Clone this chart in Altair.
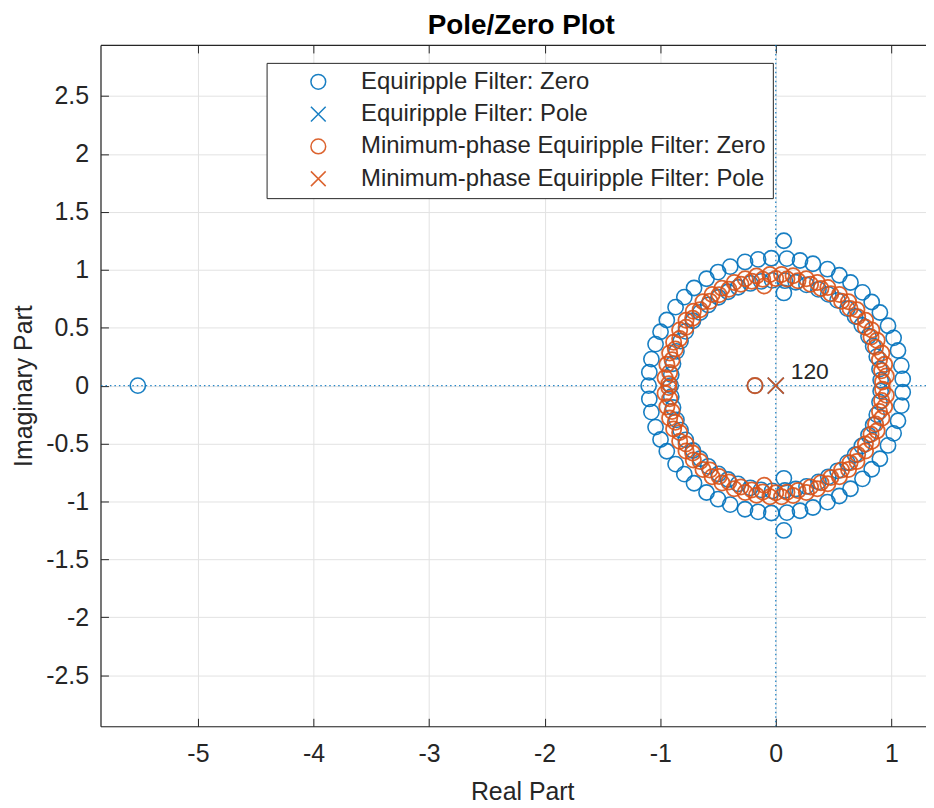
import altair as alt
import pandas as pd
import math

BLUE = "#0072BD"
ORANGE = "#D95319"
SERIES = [
    "Equiripple Filter: Zero",
    "Equiripple Filter: Pole",
    "Minimum-phase Equiripple Filter: Zero",
    "Minimum-phase Equiripple Filter: Pole",
]
COLORS = [BLUE, BLUE, ORANGE, ORANGE]
XSHAPE = "M-1,-1L1,1M-1,1L1,-1"
SHAPES = ["circle", XSHAPE, "circle", XSHAPE]

# Equiripple (linear-phase) filter zeros: reciprocal rings (upper-half angles, deg; mirrored by conjugate symmetry)
EQ_RING_OUTER_R = 1.10
EQ_RING_INNER_R = 0.909
EQ_RING_ANGLES = [3, 9, 16, 22, 28, 35, 41, 47, 54, 60, 66, 73, 79, 85, 92,
                  98, 104, 111, 117, 123, 130, 136, 142, 149, 155, 161, 168, 174, 180]
EQ_EXTRA_RE = [-5.52, -0.18, 0.07, 0.07, 0.07, 0.07]
EQ_EXTRA_IM = [0.0, 0.0, 1.25, -1.25, 0.80, -0.80]
EQ_POLES_RE = [0.0]
EQ_POLES_IM = [0.0]

# Minimum-phase equiripple filter zeros
MP_RING_A_R = 0.925
MP_RING_A_ANGLES = [2, 8, 14, 21, 27, 33, 40, 46, 52, 59, 65, 71, 78, 84, 90,
                    97, 103, 109, 116, 122, 128, 135, 141, 147, 154, 160, 166, 173, 179]
MP_RING_B_R = 0.96
MP_RING_B_ANGLES = [5, 11, 17, 24, 30, 36, 43, 49, 55, 62, 68, 74, 81, 87, 93,
                    100, 106, 112, 119, 125, 131, 138, 144, 150, 157, 163, 169, 176]
MP_EXTRA_RE = [-0.18, -0.10, -0.10]
MP_EXTRA_IM = [0.0, 0.86, -0.86]
MP_POLES_RE = [0.0]
MP_POLES_IM = [0.0]
POLE_MULTIPLICITY = "120"

X_TICKS = [-5, -4, -3, -2, -1, 0, 1]
Y_TICKS = [-2.5, -2, -1.5, -1, -0.5, 0, 0.5, 1, 1.5, 2, 2.5]
X_DOMAIN = [-5.843, 1.300]
Y_DOMAIN = [-2.94, 2.94]


def ring(r, angles):
    pts = []
    for a in angles:
        t = math.radians(a)
        pts.append((r * math.cos(t), r * math.sin(t)))
        if a not in (0, 180):
            pts.append((r * math.cos(t), -r * math.sin(t)))
    return pts


def frame(points, series):
    return pd.DataFrame({"re": [p[0] for p in points], "im": [p[1] for p in points], "series": series})


eq_zero_pts = ring(EQ_RING_OUTER_R, EQ_RING_ANGLES) + ring(EQ_RING_INNER_R, EQ_RING_ANGLES) + list(zip(EQ_EXTRA_RE, EQ_EXTRA_IM))
mp_zero_pts = ring(MP_RING_A_R, MP_RING_A_ANGLES) + ring(MP_RING_B_R, MP_RING_B_ANGLES) + list(zip(MP_EXTRA_RE, MP_EXTRA_IM))

df_eq_z = frame(eq_zero_pts, SERIES[0])
df_eq_p = frame(list(zip(EQ_POLES_RE, EQ_POLES_IM)), SERIES[1])
df_mp_z = frame(mp_zero_pts, SERIES[2])
df_mp_p = frame(list(zip(MP_POLES_RE, MP_POLES_IM)), SERIES[3])
df_txt = pd.DataFrame({"re": MP_POLES_RE, "im": MP_POLES_IM, "label": [POLE_MULTIPLICITY]})
df_axis0 = pd.DataFrame({"v": [0.0]})

FONT = "Liberation Sans"
DARK = "#262626"
xs = alt.Scale(domain=X_DOMAIN, nice=False, zero=False)
ys = alt.Scale(domain=Y_DOMAIN, nice=False, zero=False)

legend = alt.Legend(
    title=None, orient="none", legendX=167, legendY=18, direction="vertical",
    labelFont=FONT, labelFontSize=24, labelColor=DARK, labelLimit=800,
    symbolSize=220, symbolStrokeWidth=1.5, symbolOffset=33, labelOffset=31,
    padding=7, rowPadding=8.5, strokeColor=DARK, fillColor="white",
)
color = alt.Color("series:N", scale=alt.Scale(domain=SERIES, range=COLORS), legend=legend)
shape = alt.Shape("series:N", scale=alt.Scale(domain=SERIES, range=SHAPES), legend=legend)

lab_common = dict(labelFont=FONT, labelFontSize=25, labelColor=DARK, labelExpr="'' + datum.value")

x_main = alt.Axis(orient="bottom", values=X_TICKS, grid=True, gridColor="#e2e2e2", gridWidth=1,
                  ticks=False, domain=True, domainColor=DARK, domainWidth=1.2,
                  labelPadding=15, title="Real Part", titleFont=FONT, titleFontSize=25,
                  titleFontWeight="normal", titleColor=DARK, titlePadding=14, titleX=424, **lab_common)
y_main = alt.Axis(orient="left", values=Y_TICKS, grid=True, gridColor="#e2e2e2", gridWidth=1,
                  ticks=False, domain=True, domainColor=DARK, domainWidth=1.2,
                  labelPadding=12, title="Imaginary Part", titleFont=FONT, titleFontSize=25,
                  titleFontWeight="normal", titleColor=DARK, titlePadding=9, **lab_common)
x_bot_ticks = alt.Axis(orient="bottom", values=X_TICKS, offset=-8, tickSize=8, tickColor=DARK,
                       domain=False, labels=False, grid=False, title=None)
y_left_ticks = alt.Axis(orient="left", values=Y_TICKS, offset=-8, tickSize=8, tickColor=DARK,
                        domain=False, labels=False, grid=False, title=None)
x_top_domain = alt.Axis(orient="top", values=X_TICKS, ticks=False, labels=False, grid=False,
                        domain=True, domainColor=DARK, domainWidth=1.2, title=None)
x_top_ticks = alt.Axis(orient="top", values=X_TICKS, offset=-8, tickSize=8, tickColor=DARK,
                       domain=False, labels=False, grid=False, title=None)

rule_x0 = alt.Chart(df_axis0).mark_rule(color=BLUE, strokeDash=[1.5, 3], strokeWidth=1.3, opacity=0.85).encode(
    x=alt.X("v:Q", scale=xs, axis=None))
rule_y0 = alt.Chart(df_axis0).mark_rule(color=BLUE, strokeDash=[1.5, 3], strokeWidth=1.3, opacity=0.85).encode(
    y=alt.Y("v:Q", scale=ys, axis=None))


def pts(df, size, xaxis, yaxis, sw):
    return alt.Chart(df).mark_point(filled=False, size=size, strokeWidth=sw, opacity=0.9).encode(
        x=alt.X("re:Q", scale=xs, axis=xaxis),
        y=alt.Y("im:Q", scale=ys, axis=yaxis),
        color=color, shape=shape,
    )


l_eq_z = pts(df_eq_z, 235, x_main, y_main, 1.6)
l_eq_p = pts(df_eq_p, 260, x_bot_ticks, y_left_ticks, 1.6)
l_mp_z = pts(df_mp_z, 235, x_top_domain, None, 1.8)
l_mp_p = pts(df_mp_p, 260, x_top_ticks, None, 1.6)

txt = alt.Chart(df_txt).mark_text(align="left", baseline="alphabetic", dx=15, dy=-7,
                                  font=FONT, fontSize=23, color=DARK).encode(
    x=alt.X("re:Q", scale=xs, axis=None),
    y=alt.Y("im:Q", scale=ys, axis=None),
    text="label:N",
)

chart = alt.layer(rule_x0, rule_y0, l_eq_z, l_eq_p, l_mp_z, l_mp_p, txt).resolve_axis(
    x="independent", y="independent"
).properties(
    width=830, height=685,
    padding={"left": 93, "top": 35, "right": 0, "bottom": 78},
    autosize=alt.AutoSizeParams(type="none"),
    title=alt.TitleParams("Pole/Zero Plot", font=FONT, fontSize=28, fontWeight="bold",
                          color="black", anchor="middle", dx=8, offset=4),
).configure_view(stroke="transparent").configure(font=FONT)

chart.save("out.html", embed_options={"renderer": "svg", "actions": False})
